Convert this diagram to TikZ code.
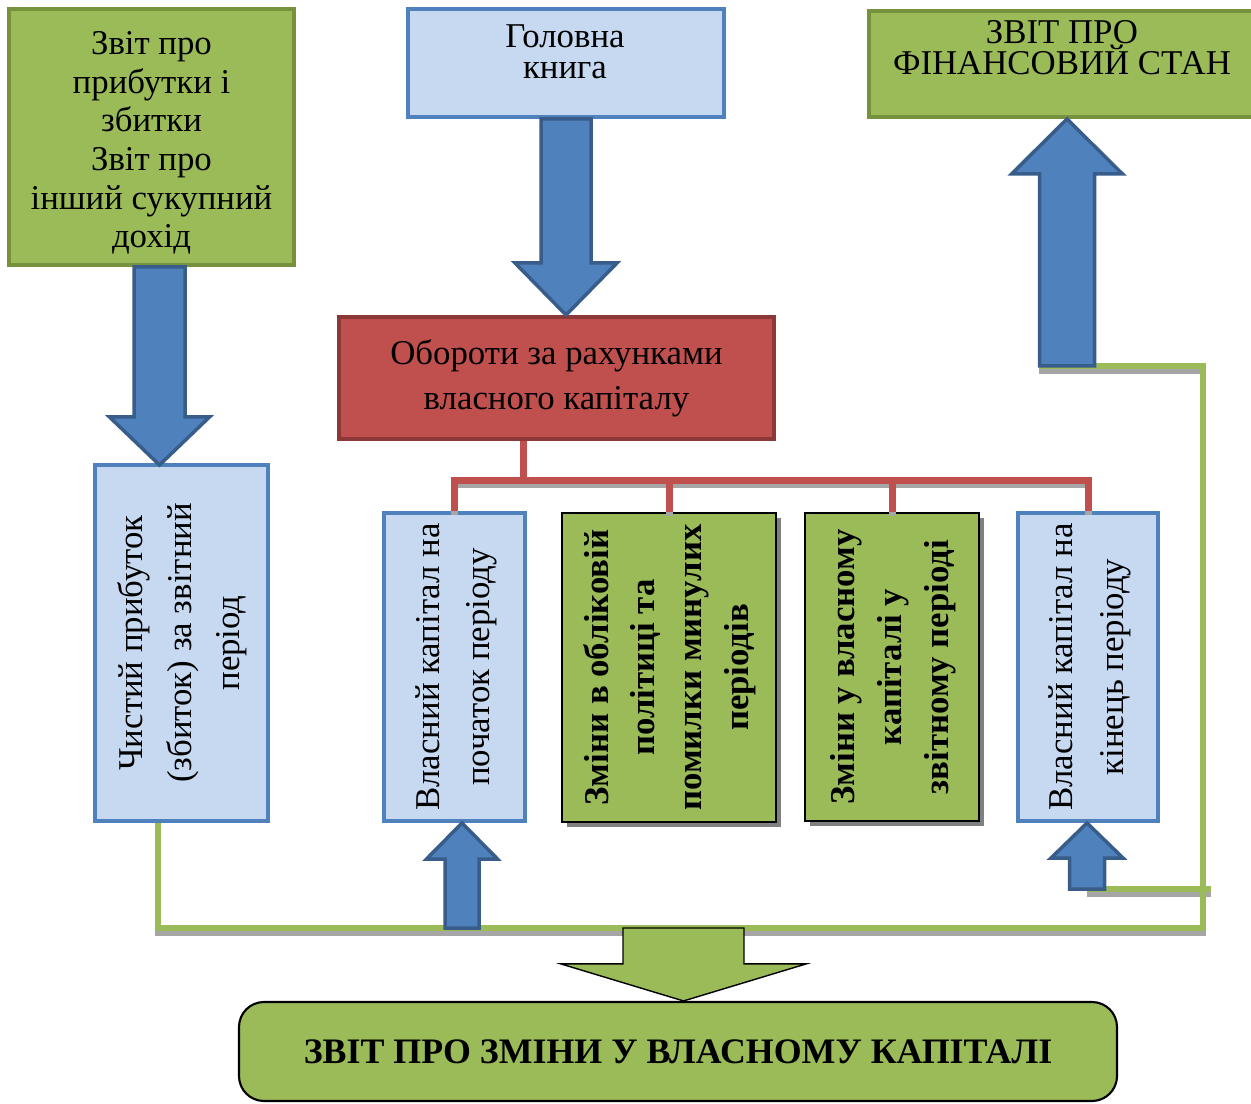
\documentclass[tikz,border=0pt]{standalone}
\usepackage{fontspec}
\setmainfont{Liberation Serif}
\usepackage{xcolor}
\definecolor{leaf}{HTML}{9BBB59}
\definecolor{leafdark}{HTML}{76923C}
\definecolor{sky}{HTML}{C6D9F1}
\definecolor{skyline}{HTML}{4F81BD}
\definecolor{arrowblue}{HTML}{4F81BD}
\definecolor{arrowedge}{HTML}{385D8A}
\definecolor{brick}{HTML}{C0504D}
\definecolor{brickdark}{HTML}{8C3836}
\definecolor{shade}{HTML}{A6A6A6}
\usepackage{tikz}
\usetikzlibrary{calc, shadows}

% текст знизу вгору
\newcommand{\uptext}[1]{\rotatebox{90}{\begin{tabular}{@{}c@{}}#1\end{tabular}}}

% об'ємна стрілка: хвіст, вістря, пів ширини стрижня, пів ширини голівки, довжина голівки
\newcommand{\blockarrow}[6][]{%
  \filldraw[#1] let \p1=(#2), \p2=(#3) in
    ({\x2-#4},\y1) -- ({\x2-#4},{\y2+(#6)}) -- ({\x2-#5},{\y2+(#6)}) -- (\p2)
    -- ({\x2+#5},{\y2+(#6)}) -- ({\x2+#4},{\y2+(#6)}) -- ({\x2+#4},\y1) -- cycle;}

\tikzset{
  box/.style={inner sep=0pt, align=center, font=\fontsize{9.9}{11}\selectfont},
  greenbox/.style={box, draw=leafdark, fill=leaf, line width=0.04cm},
  bluebox/.style={box, draw=skyline, fill=sky, line width=0.04cm},
  redbox/.style={box, draw=brickdark, fill=brick, line width=0.04cm},
  changebox/.style={box, draw=black, fill=leaf, line width=0.02cm,
    font=\bfseries\fontsize{9.9}{13.3}\selectfont,
    drop shadow={shadow xshift=0.05cm, shadow yshift=-0.05cm, fill=black!50, opacity=1}},
  bluearrow/.style={fill=arrowblue, draw=arrowedge, line width=0.035cm},
  greenarrow/.style={fill=leaf, draw=black, line width=0.4pt},
  redline/.style={draw=brick, line width=0.07cm},
  redshadow/.style={draw=shade, line width=0.07cm, transform canvas={yshift=-0.04cm}},
  greenline/.style={draw=leaf, line width=0.06cm},
  greenshadow/.style={draw=shade, line width=0.06cm, transform canvas={yshift=-0.05cm}}
}

\begin{document}
\begin{tikzpicture}
  \useasboundingbox (0,0) rectangle (12.51,11.03);

  % верхній ряд
  \node[greenbox, minimum width=2.85cm, minimum height=2.56cm] (pl) at (1.515,9.66) {};
  \node[box, font={\fontsize{9.9}{11}\selectfont}] (pltext) at (1.515,9.60)
    {Звіт про\\прибутки і\\збитки\\Звіт про\\інший сукупний\\дохід};
  \node[bluebox, minimum width=3.16cm, minimum height=1.08cm] (ledger) at (5.66,10.40) {};
  \node[box, font={\fontsize{9.9}{8.8}\selectfont}] (ledgertext) at (5.65,10.515)
    {Головна\\книга};
  \node[greenbox, minimum width=3.86cm, minimum height=1.06cm] (fin) at (10.62,10.39) {};
  \node[box, font={\fontsize{9.9}{8.9}\selectfont}] (fintext)
    at (10.62,10.555) {ЗВІТ ПРО\\ФІНАНСОВИЙ СТАН};

  % зелені лінії (під усім іншим)
  \coordinate (nb) at (1.58,2.82);
  \coordinate (corner) at (12.03,1.75);
  \coordinate (fb) at (10.67,7.37);
  \coordinate (kt) at (10.87,2.14);
  \coordinate (pt) at (4.62,1.75);
  \coordinate (gt) at (6.835,1.75);
  \foreach \look in {greenshadow, greenline} {
    \draw[\look] (nb) |- (corner) |- ([xshift=-0.28cm]fb);
    \draw[\look] (kt) -- ++(1.24,0);
  }

  % обороти
  \coordinate (turnc) at (5.565,7.25);
  \coordinate (bus) at (5.23,6.22);

  % нижній ряд
  \node[bluebox, minimum width=1.73cm, minimum height=3.56cm,
    font={\fontsize{9.9}{13.8}\selectfont}] (net) at (1.815,4.60)
    {\uptext{Чистий прибуток\\(збиток) за звітний\\період}};
  \node[bluebox, minimum width=1.41cm, minimum height=3.08cm,
    font={\fontsize{9.9}{14.2}\selectfont}] (poch) at (4.545,4.36)
    {\uptext{Власний капітал на\\початок періоду}};
  \node[changebox, minimum width=2.14cm, minimum height=3.09cm] (ch1) at (6.69,4.355)
    {\uptext{Зміни в обліковій\\політиці та\\помилки минулих\\періодів}};
  \node[changebox, minimum width=1.74cm, minimum height=3.08cm] (ch2) at (8.92,4.36)
    {\uptext{Зміни у власному\\капіталі у\\звітному періоді}};
  \node[bluebox, minimum width=1.40cm, minimum height=3.08cm,
    font={\fontsize{9.9}{14.5}\selectfont}] (kin) at (10.88,4.36)
    {\uptext{Власний капітал на\\кінець періоду}};

  % червоні зв'язки
  \foreach \look in {redshadow, redline} {
    \draw[\look] (bus |- turnc) -- (bus);
    \draw[\look] (poch.north) -- (poch.north |- bus) -- (kin.north |- bus) -- (kin.north);
    \draw[\look] (ch1.north |- bus) -- (ch1.north);
    \draw[\look] (ch2.north |- bus) -- (ch2.north);
  }
  \node[redbox, minimum width=4.35cm, minimum height=1.22cm,
    font={\fontsize{9.9}{12.8}\selectfont}] (turn) at (turnc)
    {Обороти за рахунками\\власного капіталу};

  % підсумковий звіт
  \node[box, draw=black, fill=leaf, line width=0.6pt, rounded corners=0.25cm,
    minimum width=8.78cm, minimum height=0.99cm,
    font={\bfseries\fontsize{10.2}{12}\selectfont}] (soce) at (6.78,0.515)
    {ЗВІТ ПРО ЗМІНИ У ВЛАСНОМУ КАПІТАЛІ};

  % стрілки
  \coordinate (la) at (1.595,6.38);
  \blockarrow[bluearrow]{la |- pl.south}{la}{0.255cm}{0.50cm}{0.48cm}
  \blockarrow[bluearrow]{ledger.south}{ledger.south |- turn.north}{0.25cm}{0.51cm}{0.52cm}
  \blockarrow[bluearrow]{fb}{fb |- fin.south}{0.275cm}{0.555cm}{-0.55cm}
  \blockarrow[bluearrow]{pt}{pt |- poch.south}{0.17cm}{0.355cm}{-0.36cm}
  \blockarrow[bluearrow]{kt}{kt |- kin.south}{0.175cm}{0.36cm}{-0.35cm}
  \blockarrow[greenarrow]{gt}{gt |- soce.north}{0.605cm}{1.225cm}{0.37cm}
\end{tikzpicture}
\end{document}
